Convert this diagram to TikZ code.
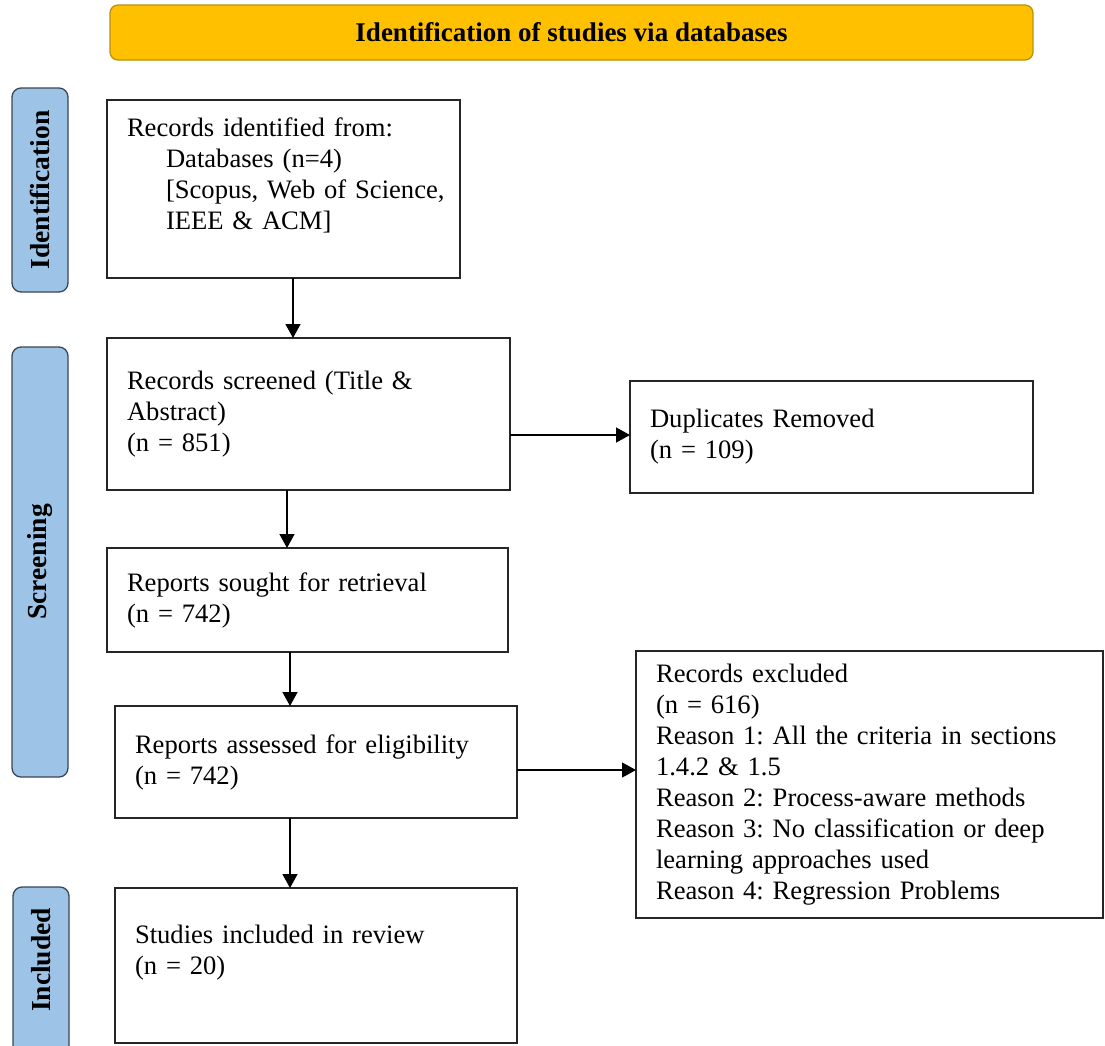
\documentclass[tikz,border=0pt]{standalone}
\usepackage{fontspec}
\setmainfont{Liberation Serif}
\usetikzlibrary{arrows.meta, positioning, calc}

\definecolor{bannerfill}{HTML}{FFC000}
\definecolor{bannerdraw}{HTML}{B8920A}
\definecolor{stagefill}{HTML}{9DC3E6}
\definecolor{stagedraw}{HTML}{3A4654}

\begin{document}
\frenchspacing
\begin{tikzpicture}[
  x=1pt, y=-1pt,
  every node/.style={font=\fontsize{26.6}{31}\selectfont},
  banner/.style={rectangle, rounded corners=8pt, draw=bannerdraw, line width=1.3pt, fill=bannerfill,
    minimum width=923pt, minimum height=55pt, font=\fontsize{27}{31}\selectfont\bfseries},
  stage/.style={rectangle, rounded corners=9pt, draw=stagedraw, line width=1.3pt, fill=stagefill,
    rotate=90, minimum height=56pt, inner sep=0pt, font=\fontsize{27.5}{31}\selectfont\bfseries},
  box/.style={rectangle, draw=black!85, line width=1.6pt, fill=white, anchor=north west,
    outer sep=0pt, inner xsep=20pt, inner ysep=0pt, align=left},
  arr/.style={-{Triangle[length=14pt,width=15pt]}, line width=1.4pt, black}
]
\useasboundingbox (0,0) rectangle (1105,1045);

% ---- BANNER ----
\node[banner] (title) at (571.5,32.5) {Identification of studies via databases};

% ---- STAGES ----
\node[stage, minimum width=204pt] (stident) at (40,190) {Identification};
\node[stage, minimum width=430pt] (stscreen) at (40,562) {Screening};
\node[stage, minimum width=168pt] (stincl) at (41,971) {\hspace{22pt}Included};

% ---- IDENTIFICATION ----
\node[box, text width=313pt, minimum height=178pt] (ident) at (107,100)
  {Records identified from:\\
   \hspace*{39pt}Databases (n=4)\\
   \hspace*{39pt}\mbox{[Scopus, Web of Science,}\\
   \hspace*{39pt}IEEE \& ACM]\\
   \mbox{}};

% ---- SCREENING ----
\node[box, text width=363pt, minimum height=152pt] (screen) at (107,338)
  {Records screened (Title \&\\ Abstract)\\ (n = 851)};
\node[box, text width=363pt, minimum height=112pt] (dup) at (630,381)
  {Duplicates Removed\\ (n = 109)};
\node[box, text width=361pt, minimum height=104pt] (sought) at (107,548)
  {Reports sought for retrieval\\ (n = 742)};
\node[box, text width=362pt, minimum height=112pt] (assess) at (115,706)
  {Reports assessed for eligibility\\ (n = 742)};
\node[box, text width=427pt, minimum height=267pt] (excl) at (636,651)
  {Records excluded\\ (n = 616)\\
   Reason 1: All the criteria in sections\\ 1.4.2 \& 1.5\\
   Reason 2: Process-aware methods\\
   Reason 3: No classification or deep\\ learning approaches used\\
   Reason 4: Regression Problems};

% ---- INCLUDED ----
\node[box, text width=362pt, minimum height=155pt] (incl) at (115,888)
  {Studies included in review\\ (n = 20)\\ \mbox{}};

% ---- ARROWS ----
\draw[arr] ([xshift=9.5pt]ident.south) -- ([xshift=9.5pt]ident.south |- screen.north);
\draw[arr] ([yshift=-21pt]screen.east) -- ([yshift=-21pt]screen.east -| dup.west);
\draw[arr] ([xshift=-21.5pt]screen.south) -- ([xshift=-21.5pt]screen.south |- sought.north);
\draw[arr] ([xshift=-17.5pt]sought.south) -- ([xshift=-17.5pt]sought.south |- assess.north);
\draw[arr] ([yshift=-8pt]assess.east) -- ([yshift=-8pt]assess.east -| excl.west);
\draw[arr] ([xshift=-26pt]assess.south) -- ([xshift=-26pt]assess.south |- incl.north);
\end{tikzpicture}
\end{document}
